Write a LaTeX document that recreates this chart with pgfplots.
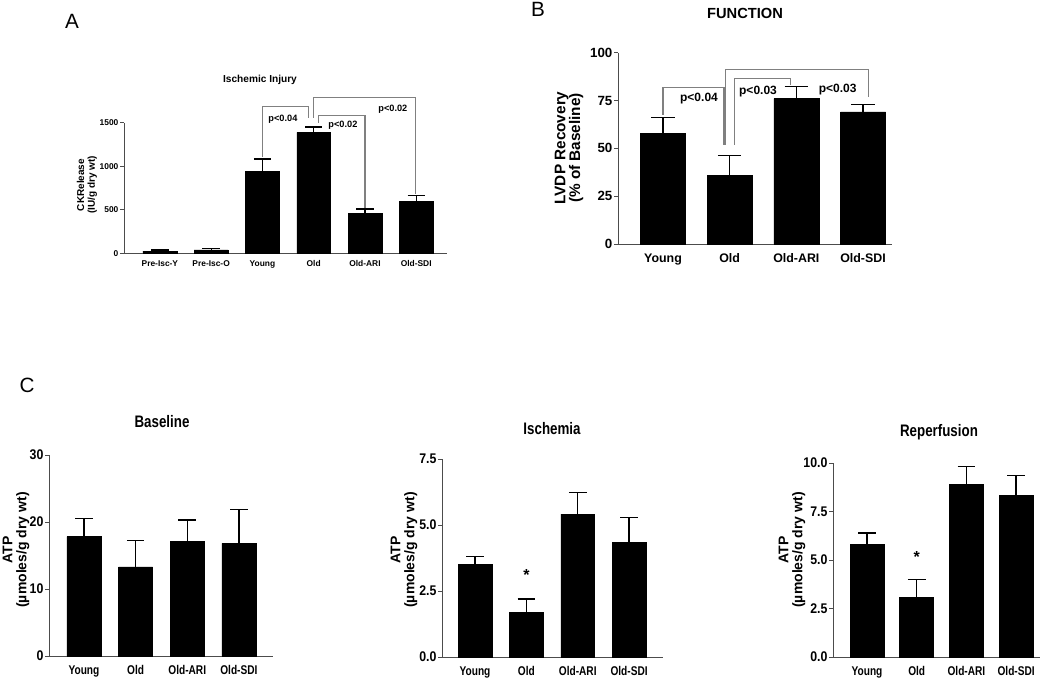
\documentclass[border=0pt]{standalone}
\usepackage{fontspec}
\setmainfont{Liberation Sans}
\newfontfamily\narrow{Liberation Sans}[FakeStretch=0.8]
\newfontfamily\semi{Liberation Sans}[FakeStretch=0.88]
\usepackage{pgfplots}
\pgfplotsset{compat=1.18}
\newcommand\fs[2]{\fontsize{#1}{#2}\selectfont}

\tikzset{brk/.style={draw=black!50, line width=0.8pt}}
\pgfplotsset{
 prism/.style={
  scale only axis, clip=false, anchor=south west,
  axis x line*=bottom, axis y line*=left,
  axis line style={-, draw=black!70, line width=0.7pt},
  ybar, bar shift=0pt,
  xtick=data, xtick style={draw=none},
  ytick style={draw=black!70, line width=0.7pt},
  tick align=outside, major tick length=3pt,
  ymin=0,
  /pgf/number format/assume math mode=true,
  yticklabel style={inner sep=1pt},
  xticklabel style={text height=0.75em, text depth=0.22em},
  error bars/y dir=plus, error bars/y explicit,
  error bars/error bar style={line width=1pt, black},
 },
 blackbar/.style={fill=black, draw=black},
}

\begin{document}
\begin{tikzpicture}[x=0.75pt,y=0.75pt]
\path[use as bounding box] (0,0) rectangle (1050,679);

% ---------------- Panel A
\begin{axis}[prism, at={(93pt,319.275pt)}, width=242.25pt, height=97.95pt,
  xmin=-0.70, xmax=5.6, ymax=1500, ytick={0,500,1000,1500},
  yticklabels={0,500,1000,1500},
  bar width=0.66, xticklabels={Pre-Isc-Y,Pre-Isc-O,Young,Old,Old-ARI,Old-SDI},
  ticklabel style={font=\fs{6.3}{7}\bfseries},
  xticklabel style={yshift=4.5pt},
  error bars/error bar style={line width=0.9pt, black},
  error bars/error mark options={rotate=90, line width=0.9pt, mark size=6.5pt, black}]
\addplot[blackbar] table[x=x,y=y,y error=e]{
x y e
0 25 12
1 40 12
2 937 146
3 1389 61
4 459 50
5 593 69
};
\draw[brk] (axis cs:2,1110) -- (axis cs:2,1684) -- (axis cs:2.906,1684) -- (axis cs:2.906,1554);
\draw[brk] (axis cs:2.99,1554) -- (axis cs:2.99,1787) -- (axis cs:4.987,1787) -- (axis cs:4.987,680);
\draw[brk] (axis cs:3.10,1497) -- (axis cs:3.10,1588) -- (axis cs:4.0,1588) -- (axis cs:4.0,520);
\node[font=\fs{6.9}{8}\bfseries] at (axis cs:2.40,1542) {p<0.04};
\node[font=\fs{6.9}{8}\bfseries] at (axis cs:3.57,1466) {p<0.02};
\node[font=\fs{6.9}{8}\bfseries] at (axis cs:4.545,1657) {p<0.02};
\end{axis}

% ---------------- Panel B
\begin{axis}[prism, at={(463.5pt,326.25pt)}, width=205.5pt, height=143.5pt,
  xmin=-0.675, xmax=3.435, ymax=100, ytick={0,25,50,75,100},
  bar width=0.675, xticklabels={Young,Old,Old-ARI,Old-SDI},
  yticklabel style={font=\fs{10}{11}\bfseries},
  xticklabel style={font=\fs{9.3}{10}\bfseries, yshift=0.5pt},
  error bars/error bar style={line width=1.1pt, black},
  error bars/error mark options={rotate=90, line width=1.1pt, mark size=8.8pt, black}]
\addplot[blackbar] table[x=x,y=y,y error=e]{
x y e
0 58 8
1 36 10.2
2 76 6.2
3 69 4
};
\draw[brk] (axis cs:0,67.5) -- (axis cs:0,81.7) -- (axis cs:0.915,81.7) -- (axis cs:0.915,51.8);
\draw[brk] (axis cs:0.934,51.8) -- (axis cs:0.934,91.3) -- (axis cs:3.078,91.3) -- (axis cs:3.078,77);
\draw[brk] (axis cs:1.069,51.8) -- (axis cs:1.069,86.3) -- (axis cs:1.919,86.3) -- (axis cs:1.919,83.1);
\node[font=\fs{9}{10}\bfseries] at (axis cs:0.54,76.2) {p<0.04};
\node[font=\fs{9}{10}\bfseries] at (axis cs:1.425,79.6) {p<0.03};
\node[font=\fs{9}{10}\bfseries] at (axis cs:2.62,80.9) {p<0.03};
\end{axis}

% ---------------- Panel C: Baseline
\begin{axis}[prism, at={(36.75pt,17.25pt)}, width=168pt, height=150.75pt,
  xmin=-0.677, xmax=3.66, ymax=30, ytick={0,10,20,30},
  bar width=0.66, xticklabels={Young,Old,Old-ARI,Old-SDI},
  yticklabel style={font=\semi\fs{10.5}{11}\bfseries},
  xticklabel style={font=\narrow\fs{9.5}{10}\bfseries, yshift=0.5pt},
  error bars/error mark options={rotate=90, line width=1pt, mark size=6.6pt, black}]
\addplot[blackbar] table[x=x,y=y,y error=e]{
x y e
0 17.8 2.7
1 13.3 3.9
2 17.1 3.2
3 16.8 5.1
};
\end{axis}

% ---------------- Panel C: Ischemia
\begin{axis}[prism, at={(331.5pt,16.5pt)}, width=165.75pt, height=148.5pt,
  xmin=-0.643, xmax=3.66, ymax=7.5, ytick={0,2.5,5,7.5},
  yticklabels={0.0,2.5,5.0,7.5},
  bar width=0.66, xticklabels={Young,Old,Old-ARI,Old-SDI},
  yticklabel style={font=\semi\fs{10.5}{11}\bfseries},
  xticklabel style={font=\narrow\fs{9.5}{10}\bfseries, yshift=0.5pt},
  error bars/error mark options={rotate=90, line width=1pt, mark size=6.6pt, black}]
\addplot[blackbar] table[x=x,y=y,y error=e]{
x y e
0 3.51 0.29
1 1.70 0.50
2 5.41 0.82
3 4.33 0.95
};
\node[font=\fs{12}{12}\bfseries] at (axis cs:1,3.12) {*};
\end{axis}

% ---------------- Panel C: Reperfusion
\begin{axis}[prism, at={(624.75pt,16.5pt)}, width=155.25pt, height=145.5pt,
  xmin=-0.684, xmax=3.48, ymax=10, ytick={0,2.5,5,7.5,10},
  yticklabels={0.0,2.5,5.0,7.5,10.0},
  bar width=0.684, xticklabels={Young,Old,Old-ARI,Old-SDI},
  yticklabel style={font=\semi\fs{10.5}{11}\bfseries},
  xticklabel style={font=\narrow\fs{9.5}{10}\bfseries, yshift=0.5pt},
  error bars/error mark options={rotate=90, line width=1pt, mark size=6.6pt, black}]
\addplot[blackbar] table[x=x,y=y,y error=e]{
x y e
0 5.79 0.61
1 3.07 0.91
2 8.91 0.90
3 8.33 1.01
};
\node[font=\fs{12}{12}\bfseries] at (axis cs:1,5.13) {*};
\end{axis}

% ---------------- Texts
\node[font=\fs{15.5}{16}] at (72,658) {A};
\node[font=\fs{15.5}{16}] at (538,670) {B};
\node[font=\fs{15.5}{16}] at (27,294) {C};
\node[font=\fs{7.6}{8}\bfseries] at (260,599) {Ischemic Injury};
\node[font=\fs{11}{12}\bfseries] at (745,666) {FUNCTION};
\node[font=\fs{7.5}{8}\bfseries, rotate=90, align=center] at (87,494) {CKRelease\\(IU/g dry wt)};
\node[font=\fs{11.5}{11}\bfseries, rotate=90, align=center] at (569,531) {LVDP Recovery\\(\% of Baseline)};
\node[font=\narrow\fs{12.5}{13}\bfseries] at (162,257) {Baseline};
\node[font=\narrow\fs{12.5}{13}\bfseries] at (552,250) {Ischemia};
\node[font=\narrow\fs{12.5}{13}\bfseries] at (939,247) {Reperfusion};
\node[font=\fs{10.5}{10.5}\bfseries, rotate=90, align=center] at (16,129) {ATP\\(µmoles/g dry wt)};
\node[font=\fs{10.5}{10.5}\bfseries, rotate=90, align=center] at (404,129) {ATP\\(µmoles/g dry wt)};
\node[font=\fs{10.5}{10.5}\bfseries, rotate=90, align=center] at (792,129) {ATP\\(µmoles/g dry wt)};
\end{tikzpicture}
\end{document}
